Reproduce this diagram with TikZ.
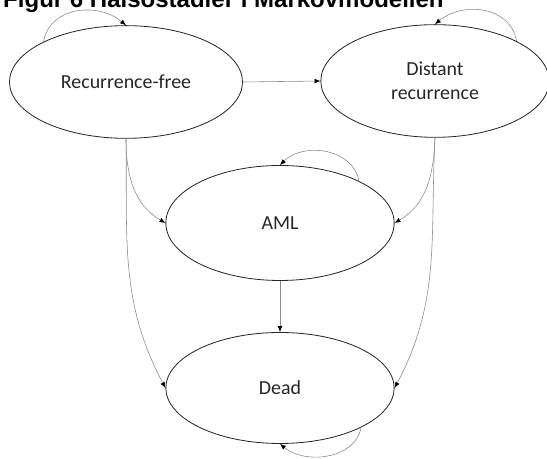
\documentclass[tikz,border=0pt]{standalone}
\usepackage{fontspec}
\setmainfont{Carlito}
\newfontfamily\titlefont{Liberation Sans}
\usetikzlibrary{arrows.meta,shapes.geometric}

\tikzset{
  state/.style={ellipse, draw=black!85, line width=0.7pt, inner sep=0pt,
    minimum width=6.85cm, minimum height=3.38cm, align=center,
    text=black!85, font=\fontsize{17}{20.5}\selectfont},
  trans/.style={draw=black!45, line width=0.5pt,
    -{Latex[color=black,length=5pt,width=4pt]}},
}

\begin{document}
\begin{tikzpicture}[x=0.03cm, y=0.03cm]

  \useasboundingbox (0,0) rectangle (547,459);

  % title, cut at the top
  \node[anchor=base west, inner sep=0, font=\titlefont\bfseries\fontsize{20.5}{24}\selectfont] (title) at (3,451) {Figur 6 Hälsostadier i Markovmodellen};

  % states
  \node[state, minimum width=6.99cm] (free) at (126,377) {Recurrence-free};
  \node[state] (distant) at (435,378) {Distant\\recurrence};
  \node[state, minimum height=3.45cm] (aml) at (280,236) {AML};
  \node[state, minimum height=3.33cm] (dead) at (280,71) {Dead};

  % self loops
  \draw[trans] (free.154) to[out=80, in=140, looseness=1.1] (free.north);
  \draw[trans] (distant.26) to[out=100, in=40, looseness=1.1] (distant.north);
  \draw[trans] (aml.28) to[out=100, in=45, looseness=1.05] (aml.north);
  \draw[trans] (dead.-26) to[out=-100, in=-40, looseness=1] (dead.south);

  % transitions
  \draw[trans] (free.east) -- (distant.west);
  \draw[trans] (free.south) to[out=-90, in=150] (aml.west);
  \draw[trans] (free.south) to[out=-89, in=118] (dead.west);
  \draw[trans] (distant.south) to[out=-92, in=30] (aml.east);
  \draw[trans] (distant.south) to[out=-93, in=62] (dead.east);
  \draw[trans] (aml.south) -- (dead.north);

\end{tikzpicture}
\end{document}
